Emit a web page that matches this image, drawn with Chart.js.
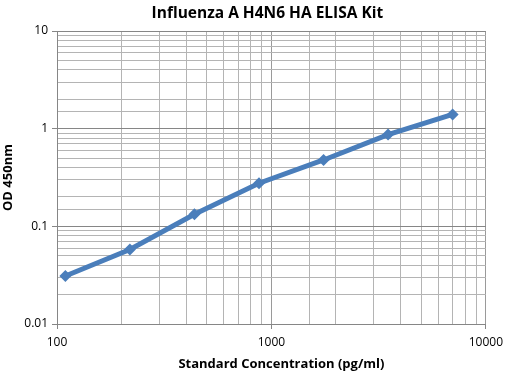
<!DOCTYPE html>
<html>
<head>
<meta charset="utf-8">
<script src="https://cdn.jsdelivr.net/npm/chart.js@4/dist/chart.umd.min.js"></script>
<style>
  html, body { margin: 0; padding: 0; background: #fff; }
  #wrap { width: 509px; height: 378px; }
</style>
</head>
<body>
<div id="wrap"><canvas id="c" width="509" height="378"></canvas></div>
<script>
// Curva padrão do kit
const concentrations = [109.4, 218.75, 437.5, 875, 1750, 3500, 7000];
const odValues = [0.031, 0.058, 0.133, 0.276, 0.478, 0.87, 1.40];
const xTickLabels = [100, 1000, 10000];
const yTickLabels = [0.01, 0.1, 1, 10];

const chartTitle = 'Influenza A H4N6 HA ELISA Kit';
const xAxisTitle = 'Standard Concentration (pg/ml)';

const lineBlue = '#4a7ebb';
const fontFam = "'Open Sans', 'Liberation Sans', sans-serif";

function isMajor(v, list) {
    return list.some(t => Math.abs(t - v) / t < 1e-6);
}

const points = concentrations.map((x, i) => ({ x: x, y: odValues[i] }));

// Títulos centrados na área do gráfico (como no Excel)
const excelTitles = {
    id: 'excelTitles',
    afterDraw(chart) {
        const { ctx, chartArea } = chart;
        const cx = (chartArea.left + chartArea.right) / 2;
        ctx.save();
        ctx.fillStyle = '#000';
        ctx.textAlign = 'center';
        ctx.textBaseline = 'middle';
        ctx.font = `bold 15.5px ${fontFam}`;
        ctx.fillText(chartTitle, cx - 4, 14);
        ctx.font = `bold 13px ${fontFam}`;
        ctx.fillText(xAxisTitle, cx + 10, 364);
        ctx.restore();
    }
};

new Chart(document.getElementById('c'), {
    type: 'line',
    data: {
        datasets: [{
            label: 'OD',
            data: points,
            borderColor: lineBlue,
            backgroundColor: lineBlue,
            borderWidth: 5,
            pointStyle: 'rectRot',
            pointRadius: 6,
            pointHoverRadius: 6,
            pointBorderWidth: 0,
            tension: 0
        }]
    },
    options: {
        responsive: false,
        animation: false,
        layout: { padding: { left: 0, right: 22, top: 31, bottom: 0 } },
        plugins: {
            legend: { display: false },
            tooltip: { enabled: false },
            title: { display: false }
        },
        scales: {
            x: {
                type: 'logarithmic',
                min: 100,
                max: 10000,
                afterFit: s => { s.height = 54; },
                border: { color: '#868686', width: 1 },
                grid: {
                    color: ctx => isMajor(ctx.tick.value, xTickLabels) ? '#9a9a9a' : '#b4b4b4',
                    tickColor: ctx => isMajor(ctx.tick.value, xTickLabels) ? '#868686' : 'rgba(0,0,0,0)',
                    tickLength: 5
                },
                ticks: {
                    autoSkip: false,
                    maxRotation: 0,
                    color: '#000',
                    font: { family: fontFam, size: 12 },
                    padding: 6,
                    callback: v => isMajor(v, xTickLabels) ? String(v) : ''
                }
            },
            y: {
                type: 'logarithmic',
                min: 0.01,
                max: 10,
                afterFit: s => { s.width = 57; },
                border: { color: '#868686', width: 1 },
                grid: {
                    color: ctx => isMajor(ctx.tick.value, yTickLabels) ? '#868686' : '#b4b4b4',
                    tickColor: ctx => isMajor(ctx.tick.value, yTickLabels) ? '#868686' : 'rgba(0,0,0,0)',
                    tickLength: 5
                },
                ticks: {
                    autoSkip: false,
                    color: '#000',
                    font: { family: fontFam, size: 12 },
                    padding: 4,
                    callback: v => isMajor(v, yTickLabels) ? String(v) : ''
                },
                title: {
                    display: true,
                    text: 'OD 450nm',
                    color: '#000',
                    font: { family: fontFam, size: 13, weight: 'bold' },
                    padding: { top: 0, bottom: 2 }
                }
            }
        }
    },
    plugins: [excelTitles]
});
</script>
</body>
</html>
